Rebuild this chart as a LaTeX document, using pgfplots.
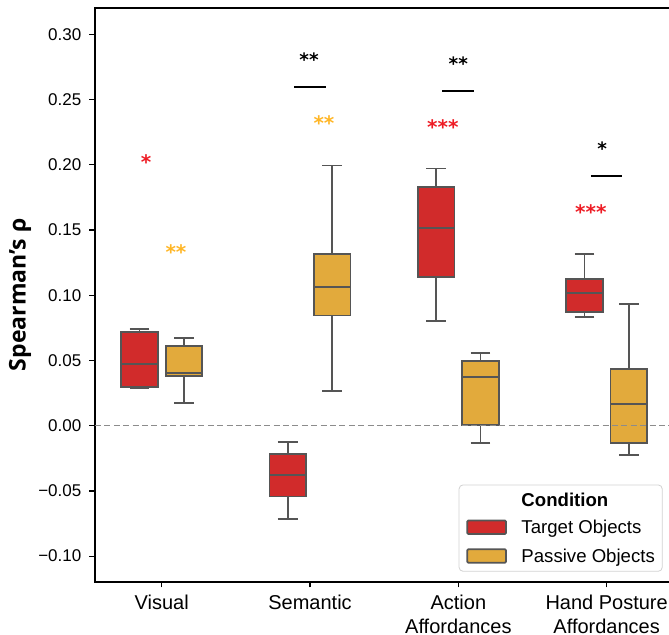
\documentclass[border=0pt]{standalone}
\usepackage{fontspec}
\setmainfont{Liberation Sans}
\newfontfamily\labelfont{Open Sans}
\newfontfamily\starfont{DejaVu Sans}
\usepackage{pgfplots}
\pgfplotsset{compat=1.18}
\usepgfplotslibrary{statistics}
\definecolor{tred}{RGB}{209,43,43}
\definecolor{tyel}{RGB}{226,170,60}
\definecolor{edge}{RGB}{85,85,85}
\definecolor{starred}{RGB}{238,28,37}
\definecolor{staryel}{RGB}{255,182,38}
\definecolor{zerogray}{RGB}{140,140,140}
\definecolor{leggray}{RGB}{210,210,210}
\begin{document}
\begin{tikzpicture}
\begin{axis}[
  at={(47.5pt,26.65pt)}, anchor=south west,
  scale only axis, width=292.9pt, height=286.85pt,
  xmin=-0.45, xmax=3.5, ymin=-0.1196, ymax=0.3202,
  axis line style={black, line width=1pt},
  tick pos=left, tick align=outside,
  major tick length=2.85pt,
  tick style={black, line width=0.6pt},
  boxplot/draw direction=y,
  boxplot/every median/.style={draw=edge, line width=0.9pt},
  xtick={0,1,2,3},
  xticklabels={Visual,Semantic,{Action\\Affordances},{Hand Posture\\Affordances}},
  x tick label style={font=\fontsize{10}{11.65}\selectfont, align=center, inner sep=0pt, yshift=-3.8pt},
  ytick={-0.1,-0.05,0,0.05,0.1,0.15,0.2,0.25,0.3},
  yticklabels={−0.10,−0.05,0.00,0.05,0.10,0.15,0.20,0.25,0.30},
  y tick label style={font=\fontsize{8.5}{10}\selectfont, inner sep=0pt, xshift=-3.8pt},
  ylabel={Spearman’s ρ},
  every axis y label/.style={at={(axis description cs:-0.128,0.5)}, anchor=center, rotate=90, font=\labelfont\bfseries\fontsize{11.5}{13}\selectfont},
  legend style={at={(0.969,0.0174)}, anchor=south east, draw=leggray, rounded corners=2pt, fill=white,
    font=\fontsize{9.3}{11}\selectfont, inner xsep=3.7pt, inner ysep=3.9pt, row sep=6.8pt,
    nodes={inner sep=0pt, text height=6.7pt, text depth=0pt}},
  legend cell align=left,
  legend image code/.code={\draw[#1, rounded corners=0.5pt] (0pt,-3.35pt) rectangle (19.3pt,3.35pt); \path (26.65pt,0pt);},
]
\addlegendimage{empty legend}\addlegendentry{\textbf{Condition}}
\addlegendimage{fill=tred, draw=edge, line width=0.85pt}\addlegendentry{Target Objects}
\addlegendimage{fill=tyel, draw=edge, line width=0.85pt}\addlegendentry{Passive Objects}

% Visual
\addplot[forget plot, boxplot prepared={draw position=-0.15, lower whisker=0.0289, lower quartile=0.0299, median=0.0471, upper quartile=0.0716, upper whisker=0.0739, box extend=0.247, whisker extend=0.133}, draw=edge, fill=tred, line width=0.85pt] coordinates {};
\addplot[forget plot, boxplot prepared={draw position=0.15, lower whisker=0.0172, lower quartile=0.0381, median=0.0406, upper quartile=0.0611, upper whisker=0.0670, box extend=0.247, whisker extend=0.133}, draw=edge, fill=tyel, line width=0.85pt] coordinates {};
% Semantic
\addplot[forget plot, boxplot prepared={draw position=0.85, lower whisker=-0.0715, lower quartile=-0.0544, median=-0.0378, upper quartile=-0.0219, upper whisker=-0.0123, box extend=0.247, whisker extend=0.133}, draw=edge, fill=tred, line width=0.85pt] coordinates {};
\addplot[forget plot, boxplot prepared={draw position=1.15, lower whisker=0.0264, lower quartile=0.0844, median=0.1064, upper quartile=0.1314, upper whisker=0.1994, box extend=0.247, whisker extend=0.133}, draw=edge, fill=tyel, line width=0.85pt] coordinates {};
% Action
\addplot[forget plot, boxplot prepared={draw position=1.85, lower whisker=0.0803, lower quartile=0.1140, median=0.1518, upper quartile=0.1830, upper whisker=0.1971, box extend=0.247, whisker extend=0.133}, draw=edge, fill=tred, line width=0.85pt] coordinates {};
\addplot[forget plot, boxplot prepared={draw position=2.15, lower whisker=-0.0135, lower quartile=0.0005, median=0.0371, upper quartile=0.0496, upper whisker=0.0555, box extend=0.247, whisker extend=0.133}, draw=edge, fill=tyel, line width=0.85pt] coordinates {};
% Hand posture
\addplot[forget plot, boxplot prepared={draw position=2.85, lower whisker=0.0831, lower quartile=0.0874, median=0.1020, upper quartile=0.1123, upper whisker=0.1314, box extend=0.247, whisker extend=0.133}, draw=edge, fill=tred, line width=0.85pt] coordinates {};
\addplot[forget plot, boxplot prepared={draw position=3.15, lower whisker=-0.0225, lower quartile=-0.0135, median=0.0166, upper quartile=0.0432, upper whisker=0.0933, box extend=0.247, whisker extend=0.133}, draw=edge, fill=tyel, line width=0.85pt] coordinates {};

% zero line
\addplot[forget plot, zerogray, line width=0.6pt, dash pattern=on 3pt off 1.7pt] coordinates {(-0.45,0) (3.5,0)};

% significance bars
\addplot[forget plot, black, line width=1pt] coordinates {(0.895,0.2595) (1.105,0.2595)};
\addplot[forget plot, black, line width=1pt] coordinates {(1.893,0.2569) (2.104,0.2569)};
\addplot[forget plot, black, line width=1pt] coordinates {(2.893,0.1915) (3.105,0.1915)};

% stars
\addplot[forget plot, only marks, mark=none, point meta=explicit symbolic, nodes near coords,
  every node near coord/.append style={font=\starfont\bfseries\fontsize{10}{12}\selectfont, text=starred, anchor=center, yshift=-2.2pt, inner sep=0pt}]
  coordinates {(-0.106,0.2058) [*] (1.895,0.2324) [***] (2.894,0.1675) [***]};
\addplot[forget plot, only marks, mark=none, point meta=explicit symbolic, nodes near coords,
  every node near coord/.append style={font=\starfont\bfseries\fontsize{10}{12}\selectfont, text=staryel, anchor=center, yshift=-2.2pt, inner sep=0pt}]
  coordinates {(0.096,0.1368) [**] (1.094,0.2350) [**]};
\addplot[forget plot, only marks, mark=none, point meta=explicit symbolic, nodes near coords,
  every node near coord/.append style={font=\starfont\bfseries\fontsize{9.2}{11}\selectfont, text=black, anchor=center, yshift=-2pt, inner sep=0pt}]
  coordinates {(0.993,0.2835) [**] (2.0,0.2804) [**] (2.97,0.2153) [*]};
\end{axis}
\pgfresetboundingbox
\useasboundingbox (0,0) rectangle (334.5pt,317.5pt);
\end{tikzpicture}
\end{document}
